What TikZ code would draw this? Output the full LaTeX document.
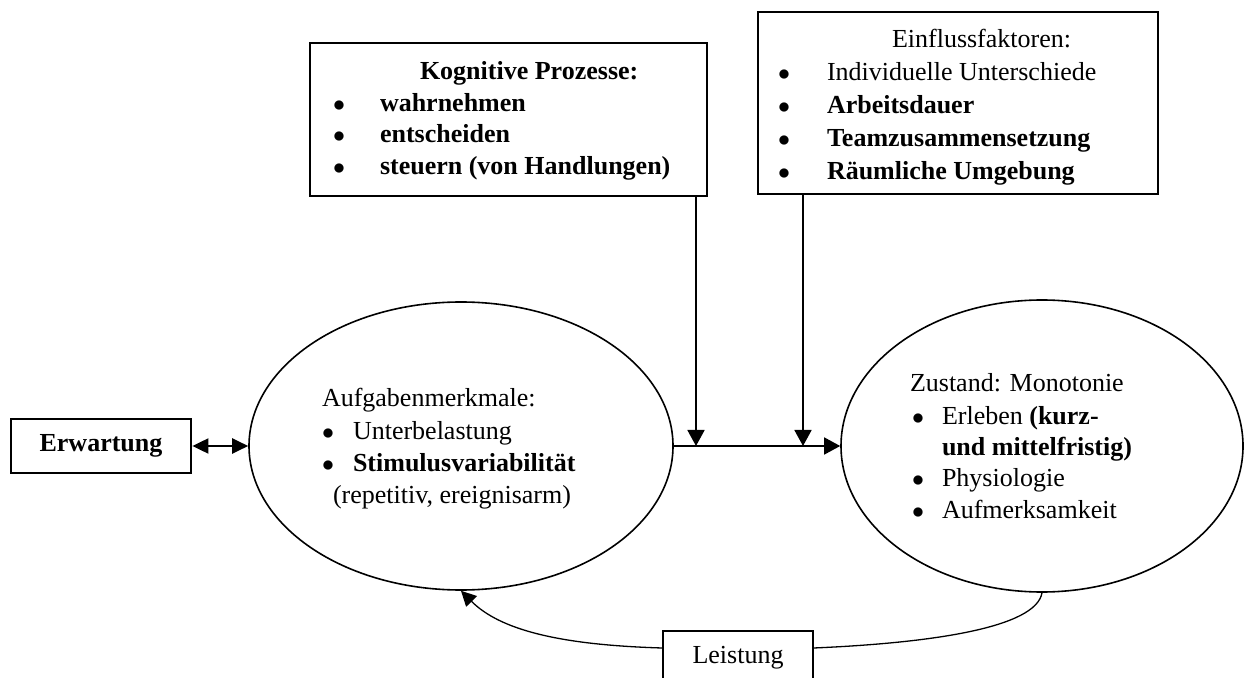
\documentclass[tikz,border=0pt]{standalone}
\usepackage{fontspec}
\setmainfont{Liberation Serif}
\usetikzlibrary{arrows.meta,shapes.geometric}
\begin{document}
\fontsize{13}{16}\selectfont
\begin{tikzpicture}[x=0.5pt,y=-0.5pt,
  txt/.style={anchor=base west,inner sep=0,outer sep=0},
  bul/.style={anchor=base west,inner sep=0,outer sep=0},
  thickbox/.style={draw,line width=1.4pt,inner sep=0},
  thinbox/.style={draw,line width=0.65pt,inner sep=0},
  oval/.style={draw,ellipse,line width=0.8pt,inner sep=0},
  tip/.style={-{Triangle[length=8pt,width=8.5pt]}},
]
\clip (0,0) rectangle (1247,678);
\fill[white] (0,0) rectangle (1247,678);

% shapes
\node[thickbox,minimum width=90pt,minimum height=27pt,font=\bfseries] (erw) at (101,446) {Erwartung};
\node[oval,minimum width=212pt,minimum height=144pt] (A) at (461,446) {};
\node[oval,minimum width=201pt,minimum height=146pt] (B) at (1042,446) {};
\node[thickbox,minimum width=198.5pt,minimum height=76.5pt] (kog) at (508.5,119.5) {};
\node[thinbox,minimum width=200pt,minimum height=91pt] (ein) at (958,103) {};
\node[thinbox,minimum width=75pt,minimum height=27pt] (leis) at (738,658) {Leistung};

% Kognitive Prozesse
\node[txt,font=\bfseries] (k0) at (420,80) {Kognitive Prozesse:};
\node[bul] (kb1) at (333,111.5) {$\bullet$};
\node[txt,font=\bfseries] (k1) at (380,111.5) {wahrnehmen};
\node[bul] (kb2) at (333,143) {$\bullet$};
\node[txt,font=\bfseries] (k2) at (380,143) {entscheiden};
\node[bul] (kb3) at (333,174.5) {$\bullet$};
\node[txt,font=\bfseries] (k3) at (380,174.5) {steuern (von Handlungen)};

% Einflussfaktoren
\node[txt] (e0) at (892,48) {Einflussfaktoren:};
\node[bul] (eb1) at (778,81) {$\bullet$};
\node[txt] (e1) at (827,81) {Individuelle Unterschiede};
\node[bul] (eb2) at (778,114) {$\bullet$};
\node[txt,font=\bfseries] (e2) at (827,114) {Arbeitsdauer};
\node[bul] (eb3) at (778,147) {$\bullet$};
\node[txt,font=\bfseries] (e3) at (827,147) {Teamzusammensetzung};
\node[bul] (eb4) at (778,180) {$\bullet$};
\node[txt,font=\bfseries] (e4) at (827,180) {Räumliche Umgebung};

% Aufgabenmerkmale
\node[txt] (a0) at (322,407) {Aufgabenmerkmale:};
\node[bul] (ab1) at (322,439) {$\bullet$};
\node[txt] (a1) at (353,439) {Unterbelastung};
\node[bul] (ab2) at (322,471) {$\bullet$};
\node[txt,font=\bfseries] (a2) at (353,471) {Stimulusvariabilität};
\node[txt] (a3) at (333,503) {(repetitiv, ereignisarm)};

% Zustand
\node[txt] (z0) at (910,392) {Zustand: Monotonie};
\node[bul] (zb1) at (912,424) {$\bullet$};
\node[txt] (z1) at (942,424) {Erleben \textbf{(kurz-}};
\node[txt,font=\bfseries] (z2) at (942,455) {und mittelfristig)};
\node[bul] (zb3) at (912,487) {$\bullet$};
\node[txt] (z3) at (942,487) {Physiologie};
\node[bul] (zb4) at (912,518) {$\bullet$};
\node[txt] (z4) at (942,518) {Aufmerksamkeit};

% connectors
\draw[line width=1pt,{Triangle[length=8pt,width=7.5pt]}-{Triangle[length=8pt,width=7.5pt]}] (erw.east) -- (A.west);
\draw[tip,line width=0.7pt] (A.east) -- (B.west);
\coordinate (j1) at (696,446);
\coordinate (j2) at (803,446);
\draw[tip,line width=0.9pt] (kog.south -| j1) -- (j1);
\draw[tip,line width=0.9pt] (ein.south -| j2) -- (j2);
\draw[line width=0.65pt,-{Triangle[length=7.5pt,width=7.5pt]}] ([yshift=5pt]leis.west) .. controls (560,645) and (500,630) .. (A.south);
\draw[line width=0.65pt] ([yshift=5pt]leis.east) .. controls (930,643) and (1036,628) .. (B.south);
\end{tikzpicture}
\end{document}
